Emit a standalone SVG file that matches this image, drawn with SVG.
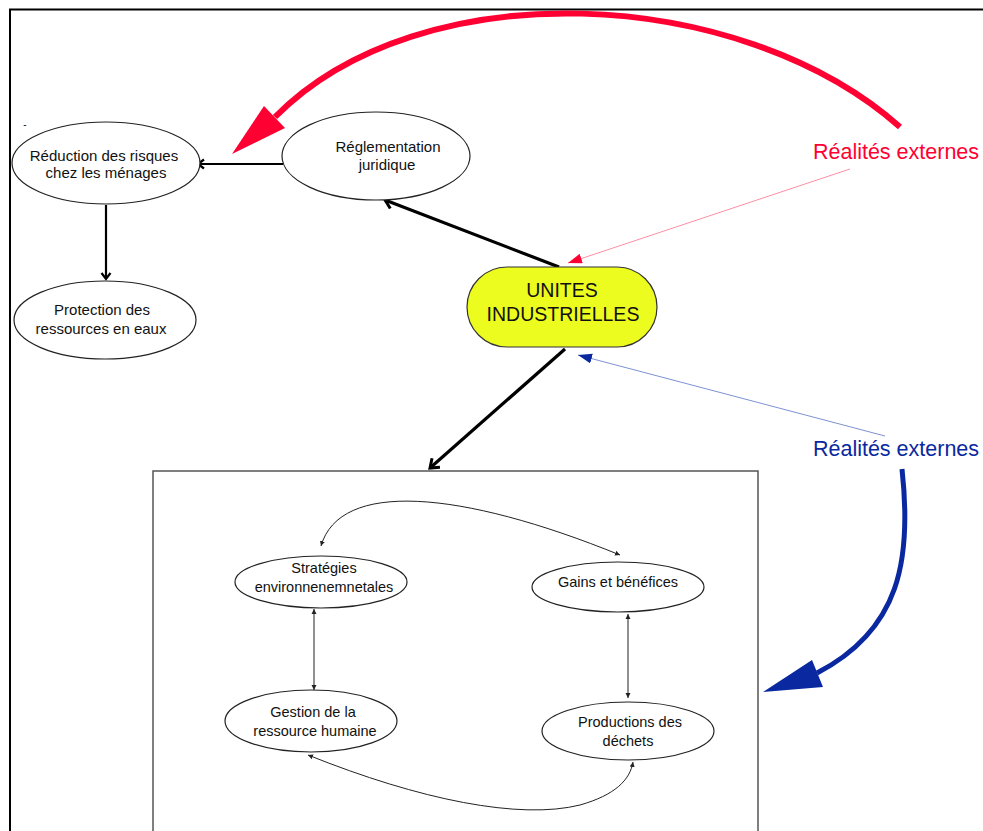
<svg xmlns="http://www.w3.org/2000/svg" width="983" height="831" viewBox="0 0 983 831">
<style>
text{font-family:"Liberation Sans",Arial,sans-serif;fill:#111;text-anchor:middle}
.n{font-size:15px}
.s{font-size:14.5px}
.el{fill:#fff;stroke:#222;stroke-width:1.2}
.thick{stroke:#000;stroke-width:3.2;fill:none}
.med{stroke:#000;stroke-width:2.2;fill:none}
.thin{stroke:#222;stroke-width:1;fill:none}
</style>
<defs>
<marker id="chev" markerUnits="userSpaceOnUse" markerWidth="16" markerHeight="16" refX="10" refY="7" orient="auto">
<path d="M2,1 L10,7 L2,13" fill="none" stroke="#000" stroke-width="3"/>
</marker>
<marker id="chev2" markerUnits="userSpaceOnUse" markerWidth="14" markerHeight="14" refX="8" refY="6" orient="auto">
<path d="M2,1.5 L8,6 L2,10.5" fill="none" stroke="#000" stroke-width="2.2"/>
</marker>
<marker id="tiny" markerUnits="userSpaceOnUse" markerWidth="8" markerHeight="8" refX="5" refY="3" orient="auto-start-reverse">
<path d="M0,0.5 L5,3 L0,5.5 Z" fill="#222"/>
</marker>
<marker id="redh" markerUnits="userSpaceOnUse" markerWidth="16" markerHeight="12" refX="14" refY="5" orient="auto">
<path d="M0,0 L14,5 L0,10 Z" fill="#ff0033"/>
</marker>
<marker id="blueh" markerUnits="userSpaceOnUse" markerWidth="16" markerHeight="12" refX="14" refY="5" orient="auto">
<path d="M0,0 L14,5 L0,10 Z" fill="#0a28a0"/>
</marker>
</defs>
<rect x="0" y="0" width="983" height="831" fill="#fff"/>
<path d="M10,840 L10,9.5 L990,9.5" fill="none" stroke="#000" stroke-width="2"/>
<text x="25" y="128" style="font-size:10px">-</text>

<g id="connectors">
<path class="med" d="M283,164 L198,164" marker-end="url(#chev2)"/>
<path class="med" d="M106,205 L106,279" marker-end="url(#chev2)"/>
<path class="thick" d="M559,267 L385,200" marker-end="url(#chev)"/>
<path class="thick" d="M565,349 L430,468" marker-end="url(#chev)"/>
<path d="M850,169 L568,263" stroke="#ff8fa3" stroke-width="1" fill="none" marker-end="url(#redh)"/>
<path d="M885,436 L578,355" stroke="#7d92d2" stroke-width="1" fill="none" marker-end="url(#blueh)"/>
<path d="M900,127 C740,-15 420,-30 275,117" stroke="#ff0033" stroke-width="6" fill="none"/>
<polygon points="232,154 264,106 285,128" fill="#ff0033"/>
<path d="M902,469 C912,560 900,630 817,673" stroke="#0a28a0" stroke-width="5" fill="none"/>
<polygon points="763,692 812,660 823,687" fill="#0a28a0"/>
<path class="thin" d="M321,546 C340,480 460,490 620,555" marker-start="url(#tiny)" marker-end="url(#tiny)"/>
<path class="thin" d="M314,609 L314,690" marker-start="url(#tiny)" marker-end="url(#tiny)"/>
<path class="thin" d="M628,614 L628,698" marker-start="url(#tiny)" marker-end="url(#tiny)"/>
<path class="thin" d="M308,755 C420,800 520,820 580,805 C615,795 630,780 633,762" marker-start="url(#tiny)" marker-end="url(#tiny)"/>
</g>

<g id="reduction"><ellipse class="el" cx="106" cy="163" rx="94" ry="41"/><text class="n" x="104" y="161">Réduction des risques</text><text class="n" x="106" y="178">chez les ménages</text></g>
<g id="protection"><ellipse class="el" cx="105" cy="320" rx="91" ry="39"/><text class="n" x="102" y="315">Protection des</text><text class="n" x="101" y="334">ressources en eaux</text></g>
<g id="reglementation"><ellipse class="el" cx="376" cy="156" rx="94" ry="44"/><text class="n" x="388" y="152">Réglementation</text><text class="n" x="387" y="170">juridique</text></g>
<g id="unites"><rect x="467" y="267" width="190" height="80" rx="40" ry="40" fill="#ecfc1e" stroke="#333" stroke-width="1.2"/><text x="562" y="297" style="font-size:19.5px">UNITES</text><text x="563" y="321" style="font-size:19.5px">INDUSTRIELLES</text></g>
<g id="realites-rouge"><text x="896" y="159" style="font-size:21.5px;fill:#ff0033">Réalités externes</text></g>
<g id="realites-bleu"><text x="896" y="456" style="font-size:21.5px;fill:#0a28a0">Réalités externes</text></g>

<g id="cadre"><rect x="153" y="471" width="605" height="380" fill="none" stroke="#555" stroke-width="1.5"/></g>
<g id="strategies"><ellipse class="el" cx="321" cy="582" rx="86" ry="26"/><text class="s" x="324" y="573">Stratégies</text><text class="s" x="324" y="592">environnenemnetales</text></g>
<g id="gains"><ellipse class="el" cx="618" cy="587" rx="86" ry="25"/><text class="s" x="618" y="587">Gains et bénéfices</text></g>
<g id="gestion"><ellipse class="el" cx="311" cy="721" rx="86" ry="31"/><text class="s" x="313" y="717">Gestion de la</text><text class="s" x="315" y="736">ressource humaine</text></g>
<g id="productions"><ellipse class="el" cx="628" cy="731" rx="86" ry="29"/><text class="s" x="630" y="727">Productions des</text><text class="s" x="628" y="746">déchets</text></g>
</svg>
